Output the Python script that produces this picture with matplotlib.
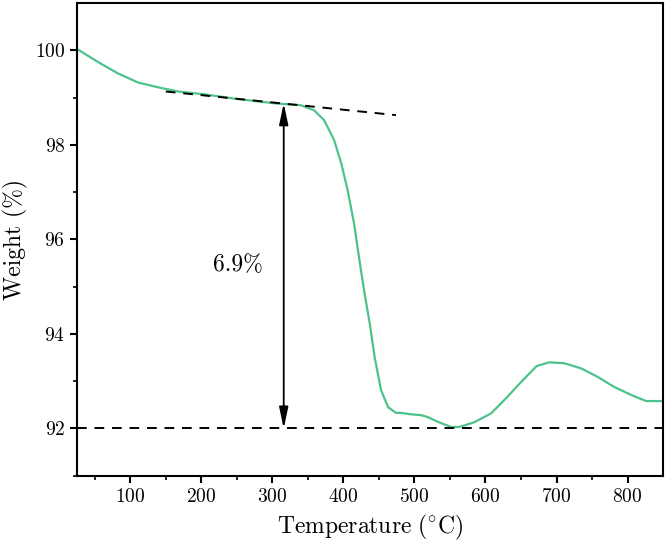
import numpy as np
import matplotlib
matplotlib.use("Agg")
from matplotlib import pyplot as plt

plt.rcParams['font.family'] = 'serif'
plt.rcParams['font.serif'] = ['cmr10', 'DejaVu Serif']
plt.rcParams['mathtext.fontset'] = 'cm'
plt.rcParams['axes.formatter.use_mathtext'] = True

# curva TGA
temperatura = [26, 55, 83, 111, 139, 167, 205, 246, 303, 340, 359, 373, 387, 397,
               406, 415, 422, 429, 437, 444, 453, 463, 474, 481, 495, 510, 519, 533,
               552, 563, 584, 608, 629, 650, 672, 690, 711, 735, 758, 781, 805, 826, 847]
peso = [100.02, 99.75, 99.51, 99.32, 99.22, 99.13, 99.07, 98.98, 98.88, 98.84, 98.73,
        98.52, 98.10, 97.61, 97.04, 96.34, 95.62, 94.93, 94.23, 93.51, 92.81, 92.45,
        92.33, 92.33, 92.30, 92.28, 92.24, 92.14, 92.03, 92.03, 92.13, 92.32, 92.64,
        92.98, 93.32, 93.40, 93.38, 93.27, 93.09, 92.88, 92.71, 92.58, 92.58]

tangente_x = [150, 474]
tangente_y = [99.13, 98.63]
base_y = 92.0
flecha_x = 316
flecha_y = [98.88, 92.0]
etiqueta = '6.9%'

fig = plt.figure(figsize=(6.66, 5.47), dpi=100)
ax = fig.add_axes([0.1156, 0.1303, 0.88, 0.864])

ax.plot(temperatura, peso, color='#4cc38a', linewidth=1.6, zorder=2)
ax.plot(tangente_x, tangente_y, color='black', linestyle=(0, (5, 4)), linewidth=1.4, zorder=3)
ax.axhline(base_y, color='black', linestyle=(0, (5, 4)), linewidth=1.4, zorder=3)
ax.annotate('', xy=(flecha_x, flecha_y[0]), xytext=(flecha_x, flecha_y[1]),
            arrowprops=dict(arrowstyle='<|-|>,head_length=0.8,head_width=0.17',
                            color='black', linewidth=1.3,
                            mutation_scale=16, shrinkA=0, shrinkB=0))
ax.text(252, 95.45, etiqueta, fontsize=17, ha='center', va='center')

ax.set_xlim(25, 850)
ax.set_ylim(91, 101)
ax.set_xticks([100, 200, 300, 400, 500, 600, 700, 800])
ax.set_xticks(np.arange(50, 850, 100), minor=True)
ax.set_yticks([92, 94, 96, 98, 100])
ax.set_yticks([91, 93, 95, 97, 99], minor=True)

ax.set_xlabel(r'$\mathrm{Temperature\ (^{\circ}C)}$', fontsize=17, labelpad=5)
ax.set_ylabel('Weight (%)', fontsize=17, labelpad=5)

for s in ax.spines.values():
    s.set_linewidth(1.5)
ax.tick_params(which='major', direction='out', length=5, width=1.5, labelsize=14)
ax.tick_params(which='minor', direction='out', length=3, width=1.2)
ax.tick_params(top=False, right=False)

fig.savefig('out.png', dpi=100)
